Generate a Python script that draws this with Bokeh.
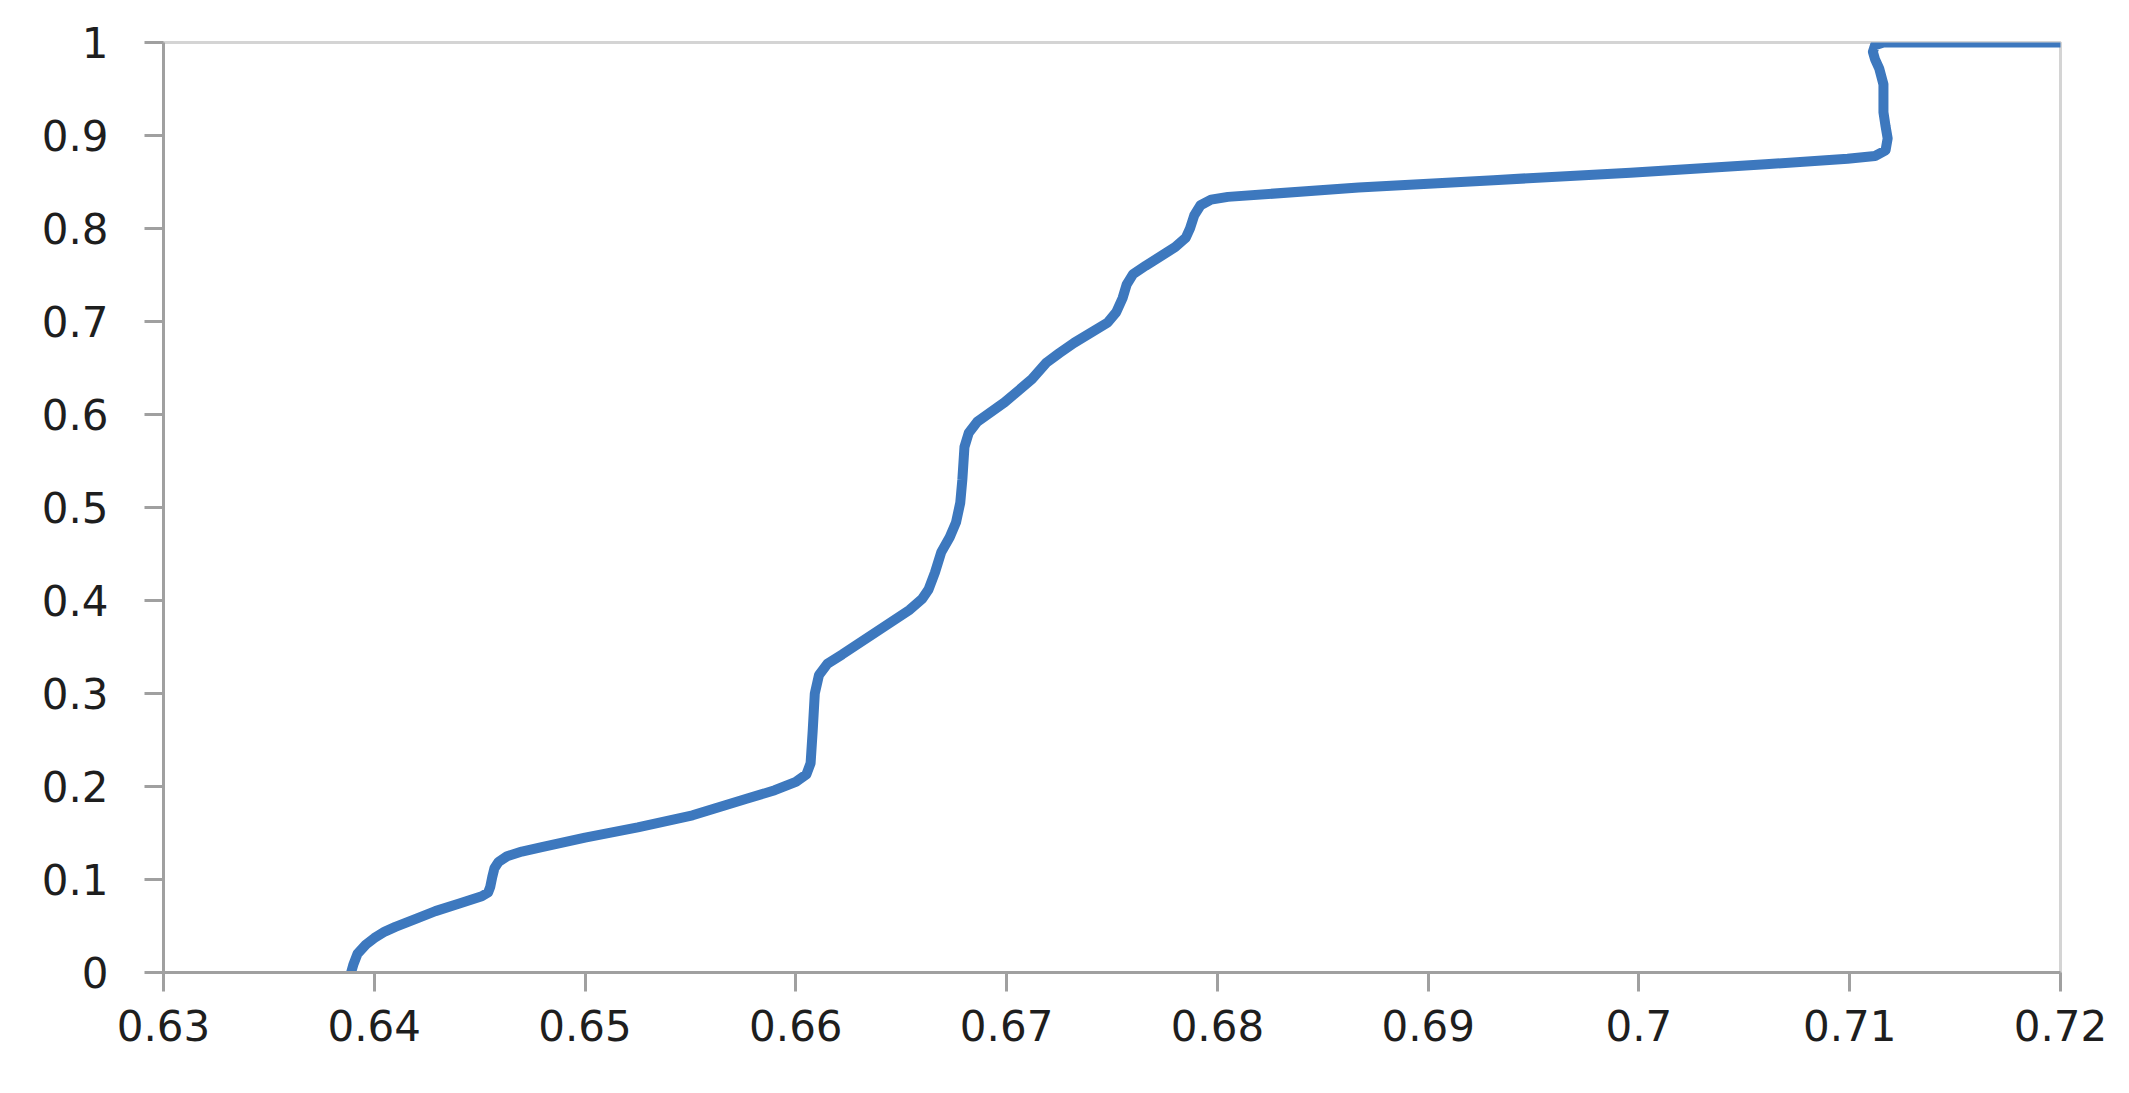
from bokeh.plotting import figure
from bokeh.models import FixedTicker, Range1d
from bokeh.embed import file_html
from bokeh.resources import INLINE

# CDF-like curve
x_values = [0.6389, 0.6390, 0.6392, 0.6396, 0.6400, 0.6405, 0.6410, 0.6420, 0.6429,
            0.6440, 0.6451, 0.6454, 0.6455, 0.6456, 0.6457, 0.6459, 0.6463, 0.6470,
            0.6480, 0.6500, 0.6525, 0.6551, 0.6577, 0.6590, 0.6600, 0.6605, 0.6607,
            0.6608, 0.6609, 0.6611, 0.6615, 0.6622, 0.6638, 0.6654, 0.6660, 0.6663,
            0.6666, 0.6669, 0.6673, 0.6676, 0.6678, 0.6679, 0.6680, 0.6682, 0.6686,
            0.6699, 0.6712, 0.6719, 0.6725, 0.6732, 0.6748, 0.6752, 0.6755, 0.6757,
            0.6760, 0.6766, 0.6780, 0.6785, 0.6787, 0.6789, 0.6792, 0.6797, 0.6805,
            0.6867, 0.6931, 0.6996, 0.7060, 0.7099, 0.7112, 0.7117, 0.7118, 0.7117,
            0.7116, 0.7116, 0.7114, 0.7112, 0.7111, 0.7112, 0.7116, 0.7200]
y_values = [0.000, 0.008, 0.020, 0.030, 0.037, 0.044, 0.049, 0.058, 0.066,
            0.074, 0.082, 0.086, 0.092, 0.103, 0.112, 0.119, 0.125, 0.130,
            0.135, 0.145, 0.156, 0.169, 0.187, 0.196, 0.205, 0.213, 0.225,
            0.260, 0.300, 0.320, 0.332, 0.342, 0.366, 0.390, 0.402, 0.412,
            0.430, 0.452, 0.468, 0.484, 0.505, 0.530, 0.565, 0.580, 0.592,
            0.613, 0.638, 0.656, 0.666, 0.677, 0.699, 0.710, 0.725, 0.740,
            0.751, 0.760, 0.780, 0.790, 0.800, 0.814, 0.825, 0.831, 0.834,
            0.844, 0.852, 0.860, 0.869, 0.875, 0.878, 0.884, 0.897, 0.910,
            0.925, 0.955, 0.972, 0.982, 0.990, 0.997, 1.000, 1.000]

x_ticks = [0.63, 0.64, 0.65, 0.66, 0.67, 0.68, 0.69, 0.70, 0.71, 0.72]
x_tick_labels = ["0.63", "0.64", "0.65", "0.66", "0.67", "0.68", "0.69", "0.7", "0.71", "0.72"]
y_ticks = [0, 0.1, 0.2, 0.3, 0.4, 0.5, 0.6, 0.7, 0.8, 0.9, 1.0]
y_tick_labels = ["0", "0.1", "0.2", "0.3", "0.4", "0.5", "0.6", "0.7", "0.8", "0.9", "1"]

W, H = 2113, 1077
p = figure(width=W, height=H, output_backend="svg", toolbar_location=None,
           x_range=Range1d(0.63, 0.72), y_range=Range1d(0, 1),
           min_border_left=163, min_border_right=53, min_border_top=42,
           min_border_bottom=105)
p.background_fill_color = "white"
p.border_fill_color = "white"
p.outline_line_color = "#d4d4d4"
p.outline_line_width = 3
p.grid.visible = False

p.line(x_values, y_values, line_color="#3d78be", line_width=10, line_join="round",
       line_cap="round")

for ax, ticks, labels in ((p.xaxis[0], x_ticks, x_tick_labels), (p.yaxis[0], y_ticks, y_tick_labels)):
    ax.ticker = FixedTicker(ticks=ticks)
    ax.major_label_overrides = {t: l for t, l in zip(ticks, labels)}
    ax.minor_tick_line_color = None
    ax.axis_line_color = "#a0a0a0"
    ax.axis_line_width = 3
    ax.major_tick_line_color = "#a0a0a0"
    ax.major_tick_line_width = 3
    ax.major_tick_in = 0
    ax.major_tick_out = 19
    ax.major_label_text_font = "DejaVu Sans"
    ax.major_label_text_font_size = "42px"
    ax.major_label_text_color = "#1e1e1e"

p.xaxis[0].major_label_standoff = 18
p.yaxis[0].major_label_standoff = 36

open("out.html", "w").write(file_html(p, INLINE))
